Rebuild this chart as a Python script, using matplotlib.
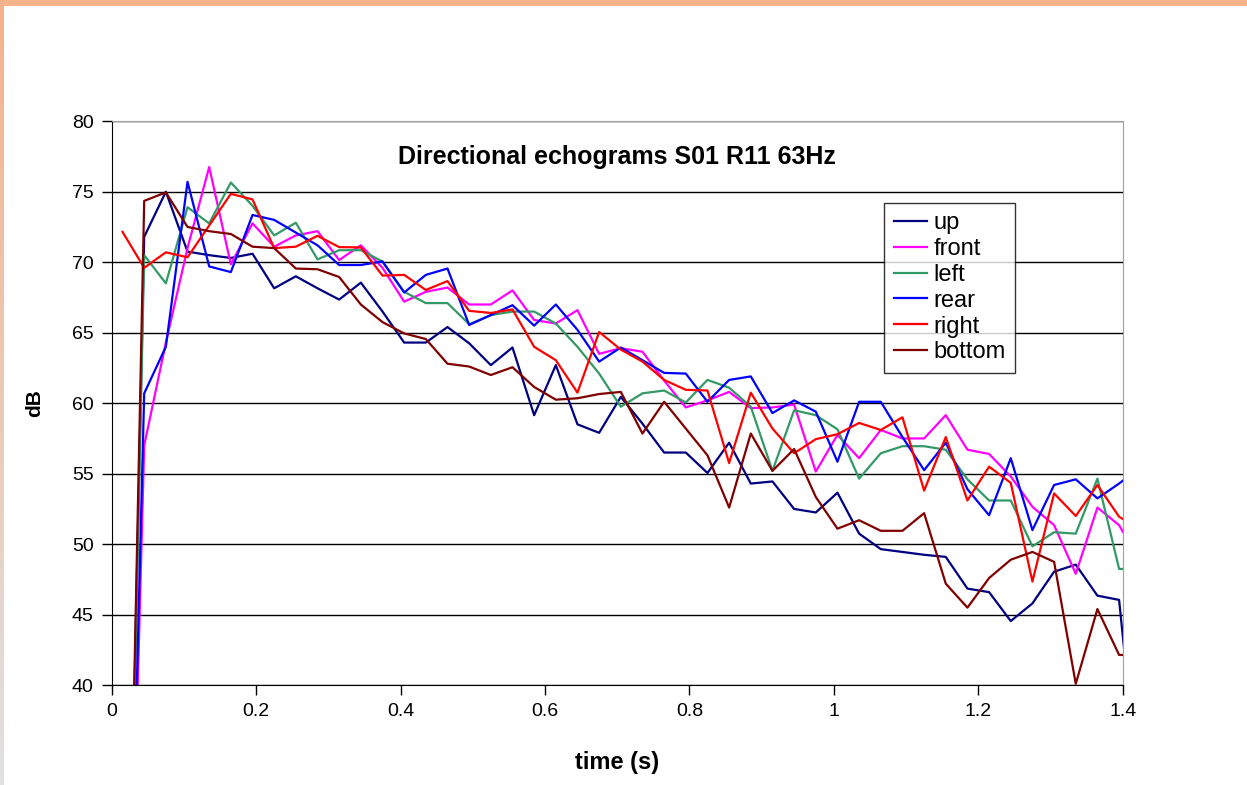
import numpy as np
import matplotlib
matplotlib.use('Agg')
import matplotlib.pyplot as plt
from matplotlib.patches import Rectangle

plt.rcParams['font.family'] = ['Liberation Sans', 'DejaVu Sans']

# time axis: frames of 0.03 s, centred
dt = 0.03
n_frames = 48
time = [(i + 0.5) * dt for i in range(n_frames)]

up = [0, 71.8, 75.0, 70.75, 70.5, 70.3, 70.6, 68.15, 69.0, 68.15, 67.35, 68.55,
      66.5, 64.3, 64.3, 65.4, 64.25, 62.7, 63.95, 59.15, 62.7, 58.5, 57.9, 60.45,
      58.55, 56.5, 56.5, 55.05, 57.2, 54.3, 54.45, 52.5, 52.25, 53.65, 50.75, 49.65,
      49.45, 49.25, 49.1, 46.85, 46.6, 44.55, 45.8, 48.05, 48.55, 46.35, 46.05, 31.0]
front = [0, 57.0, 64.3, 71.0, 76.75, 69.85, 72.75, 71.1, 71.9, 72.2, 70.15, 71.2,
         69.6, 67.2, 67.9, 68.2, 67.0, 67.0, 68.0, 65.9, 65.65, 66.6, 63.5, 63.9,
         63.65, 61.6, 59.7, 60.2, 60.8, 59.65, 59.7, 59.9, 55.15, 57.75, 56.1, 58.1,
         57.5, 57.5, 59.15, 56.7, 56.4, 54.8, 52.65, 51.35, 47.9, 52.6, 51.35, 48.7]
left = [0, 70.5, 68.5, 73.9, 72.75, 75.65, 74.0, 71.9, 72.8, 70.2, 70.85, 70.85,
        70.05, 67.9, 67.1, 67.1, 65.6, 66.25, 66.5, 66.5, 65.65, 64.0, 62.1, 59.75,
        60.7, 60.9, 60.05, 61.65, 61.1, 59.75, 55.2, 59.5, 59.15, 58.15, 54.65, 56.45,
        56.95, 56.95, 56.7, 54.6, 53.1, 53.1, 49.85, 50.85, 50.75, 54.65, 48.25, 48.2]
rear = [0, 60.7, 64.0, 75.7, 69.7, 69.3, 73.35, 73.0, 72.1, 71.2, 69.8, 69.8,
        70.05, 67.85, 69.1, 69.55, 65.55, 66.25, 66.95, 65.5, 67.0, 65.2, 62.95, 63.95,
        63.05, 62.15, 62.1, 60.1, 61.65, 61.9, 59.3, 60.2, 59.4, 55.85, 60.1, 60.1,
        57.6, 55.25, 57.2, 53.9, 52.05, 56.1, 51.0, 54.2, 54.6, 53.25, 54.3, 55.5]
right = [72.15, 69.6, 70.7, 70.35, 72.6, 74.85, 74.45, 71.0, 71.1, 71.87, 71.07, 71.05,
         69.05, 69.1, 68.03, 68.66, 66.55, 66.4, 66.65, 64.0, 63.05, 60.75, 65.05, 63.8,
         62.95, 61.65, 60.95, 60.9, 55.75, 60.75, 58.2, 56.45, 57.45, 57.8, 58.6, 58.1,
         59.0, 53.8, 57.6, 53.1, 55.5, 54.35, 47.35, 53.6, 52.0, 54.2, 51.95, 51.0]
bottom = [0, 74.35, 74.95, 72.5, 72.2, 72.0, 71.1, 71.0, 69.55, 69.5, 68.95, 67.0,
          65.75, 64.95, 64.55, 62.8, 62.6, 62.0, 62.55, 61.15, 60.25, 60.35, 60.65, 60.8,
          57.85, 60.1, 58.2, 56.3, 52.6, 57.85, 55.2, 56.75, 53.35, 51.1, 51.7, 50.95,
          50.95, 52.2, 47.2, 45.5, 47.6, 48.9, 49.45, 48.75, 40.1, 45.4, 42.15, 42.1]

series_names = ['up', 'front', 'left', 'rear', 'right', 'bottom']
series_data = [up, front, left, rear, right, bottom]
series_colors = ['#000080', '#FF00FF', '#339966', '#0000FF', '#FF0000', '#800000']

x_ticks = [0, 0.2, 0.4, 0.6, 0.8, 1.0, 1.2, 1.4]
x_tick_labels = ['0', '0.2', '0.4', '0.6', '0.8', '1', '1.2', '1.4']
y_ticks = [40, 45, 50, 55, 60, 65, 70, 75, 80]

fig = plt.figure(figsize=(12.47, 7.85), dpi=100)
fig.patch.set_facecolor('white')

# slide decoration: orange band on top, gradient strip on the left
fig.patches.append(Rectangle((0, 1 - 6 / 785), 1, 6 / 785, transform=fig.transFigure,
                             facecolor='#F6B28A', edgecolor='none', zorder=0))
strip = fig.add_axes([0, 0, 4 / 1247, 1 - 6 / 785])
grad = np.linspace(0, 1, 256).reshape(-1, 1)
top_c = np.array([246, 178, 138]) / 255
bot_c = np.array([225, 225, 225]) / 255
img = top_c[None, None, :] * (1 - grad[:, :, None]) + bot_c[None, None, :] * grad[:, :, None]
strip.imshow(img, aspect='auto')
strip.axis('off')

ax = fig.add_axes([111.7 / 1247, 1 - 685.2 / 785, 1011 / 1247, 564 / 785])

for name, vals, c in zip(series_names, series_data, series_colors):
    ax.plot(time, vals, color=c, lw=1.6, label=name)

ax.set_xlim(0, 1.4)
ax.set_ylim(40, 80)
ax.set_xticks(x_ticks)
ax.set_xticklabels(x_tick_labels)
ax.set_yticks(y_ticks)
ax.yaxis.grid(True, color='black', lw=1.0)
ax.set_axisbelow(True)
ax.tick_params(axis='both', direction='out', length=7, width=1, labelsize=14, pad=6)

for s in ['top', 'right']:
    ax.spines[s].set_color('#A0A0A0')
for s in ['left', 'bottom']:
    ax.spines[s].set_color('black')

ax.set_xlabel('time (s)', fontsize=17, fontweight='bold', labelpad=22)
ax.set_ylabel('dB', fontsize=15, fontweight='bold', labelpad=20)
ax.text(0.5, 0.936, 'Directional echograms S01 R11 63Hz', transform=ax.transAxes,
        ha='center', va='center', fontsize=18, fontweight='bold')

leg = ax.legend(loc='upper left', bbox_to_anchor=(0.764, 0.855), fontsize=17,
                frameon=True, fancybox=False, handlelength=1.4, handletextpad=0.3,
                labelspacing=0.16, borderpad=0.4, borderaxespad=0)
leg.get_frame().set_edgecolor('black')
leg.get_frame().set_linewidth(1.0)

fig.savefig('out.png', dpi=100)
